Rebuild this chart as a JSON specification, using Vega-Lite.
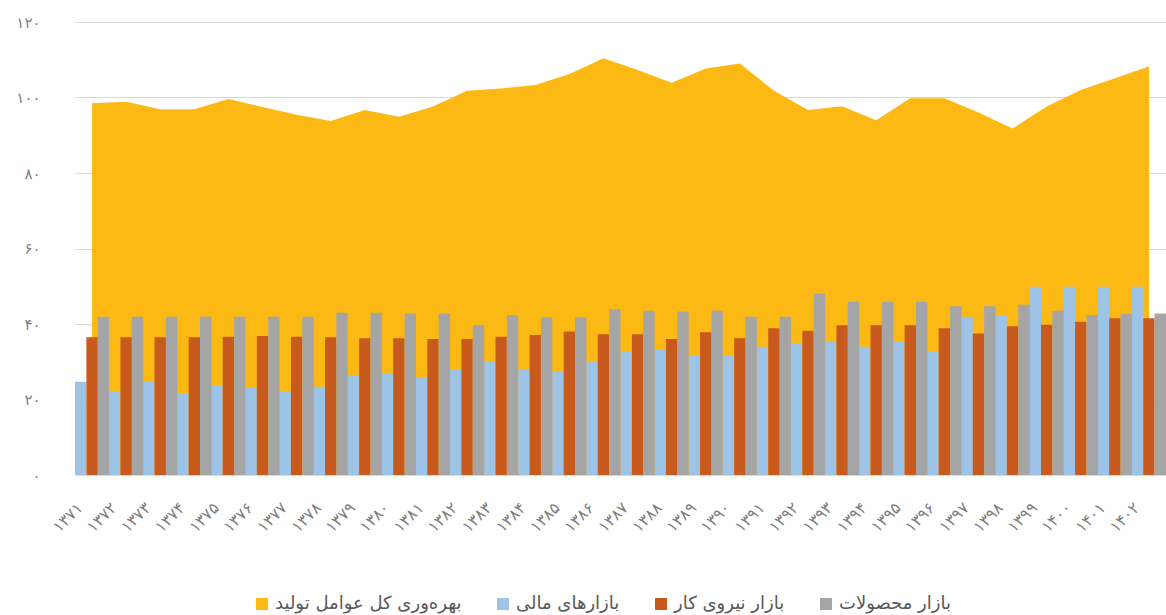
{
  "$schema": "https://vega.github.io/schema/vega-lite/v6.json",
  "autosize": {"type": "none"},
  "padding": {"left": 75, "top": 22, "right": 0, "bottom": 140},
  "width": 1091,
  "height": 453,
  "background": "white",
  "config": {
    "font": "DejaVu Sans",
    "view": {"stroke": null},
    "axis": {"labelFont": "DejaVu Sans", "labelColor": "#7f7f7f"}
  },
  "datasets": {
    "tfp": [
      {"year": "۱۳۷۱", "series": "بهره‌وری کل عوامل تولید", "value": 98.5},
      {"year": "۱۳۷۲", "series": "بهره‌وری کل عوامل تولید", "value": 98.9},
      {"year": "۱۳۷۳", "series": "بهره‌وری کل عوامل تولید", "value": 96.9},
      {"year": "۱۳۷۴", "series": "بهره‌وری کل عوامل تولید", "value": 96.9},
      {"year": "۱۳۷۵", "series": "بهره‌وری کل عوامل تولید", "value": 99.6},
      {"year": "۱۳۷۶", "series": "بهره‌وری کل عوامل تولید", "value": 97.5},
      {"year": "۱۳۷۷", "series": "بهره‌وری کل عوامل تولید", "value": 95.4},
      {"year": "۱۳۷۸", "series": "بهره‌وری کل عوامل تولید", "value": 93.8},
      {"year": "۱۳۷۹", "series": "بهره‌وری کل عوامل تولید", "value": 96.7},
      {"year": "۱۳۸۰", "series": "بهره‌وری کل عوامل تولید", "value": 94.9},
      {"year": "۱۳۸۱", "series": "بهره‌وری کل عوامل تولید", "value": 97.6},
      {"year": "۱۳۸۲", "series": "بهره‌وری کل عوامل تولید", "value": 101.8},
      {"year": "۱۳۸۳", "series": "بهره‌وری کل عوامل تولید", "value": 102.4},
      {"year": "۱۳۸۴", "series": "بهره‌وری کل عوامل تولید", "value": 103.3},
      {"year": "۱۳۸۵", "series": "بهره‌وری کل عوامل تولید", "value": 106.2},
      {"year": "۱۳۸۶", "series": "بهره‌وری کل عوامل تولید", "value": 110.4},
      {"year": "۱۳۸۷", "series": "بهره‌وری کل عوامل تولید", "value": 107.3},
      {"year": "۱۳۸۸", "series": "بهره‌وری کل عوامل تولید", "value": 103.9},
      {"year": "۱۳۸۹", "series": "بهره‌وری کل عوامل تولید", "value": 107.7},
      {"year": "۱۳۹۰", "series": "بهره‌وری کل عوامل تولید", "value": 109.0},
      {"year": "۱۳۹۱", "series": "بهره‌وری کل عوامل تولید", "value": 101.8},
      {"year": "۱۳۹۲", "series": "بهره‌وری کل عوامل تولید", "value": 96.7},
      {"year": "۱۳۹۳", "series": "بهره‌وری کل عوامل تولید", "value": 97.7},
      {"year": "۱۳۹۴", "series": "بهره‌وری کل عوامل تولید", "value": 94.0},
      {"year": "۱۳۹۵", "series": "بهره‌وری کل عوامل تولید", "value": 99.8},
      {"year": "۱۳۹۶", "series": "بهره‌وری کل عوامل تولید", "value": 99.8},
      {"year": "۱۳۹۷", "series": "بهره‌وری کل عوامل تولید", "value": 96.0},
      {"year": "۱۳۹۸", "series": "بهره‌وری کل عوامل تولید", "value": 91.8},
      {"year": "۱۳۹۹", "series": "بهره‌وری کل عوامل تولید", "value": 97.6},
      {"year": "۱۴۰۰", "series": "بهره‌وری کل عوامل تولید", "value": 102.0},
      {"year": "۱۴۰۱", "series": "بهره‌وری کل عوامل تولید", "value": 105.1},
      {"year": "۱۴۰۲", "series": "بهره‌وری کل عوامل تولید", "value": 108.2}
    ],
    "bars": [
      {"year": "۱۳۷۱", "series": "بازارهای مالی", "value": 24.7},
      {"year": "۱۳۷۲", "series": "بازارهای مالی", "value": 22.1},
      {"year": "۱۳۷۳", "series": "بازارهای مالی", "value": 24.7},
      {"year": "۱۳۷۴", "series": "بازارهای مالی", "value": 21.6},
      {"year": "۱۳۷۵", "series": "بازارهای مالی", "value": 23.8},
      {"year": "۱۳۷۶", "series": "بازارهای مالی", "value": 23.2},
      {"year": "۱۳۷۷", "series": "بازارهای مالی", "value": 22.1},
      {"year": "۱۳۷۸", "series": "بازارهای مالی", "value": 23.4},
      {"year": "۱۳۷۹", "series": "بازارهای مالی", "value": 26.5},
      {"year": "۱۳۸۰", "series": "بازارهای مالی", "value": 27.0},
      {"year": "۱۳۸۱", "series": "بازارهای مالی", "value": 25.7},
      {"year": "۱۳۸۲", "series": "بازارهای مالی", "value": 27.8},
      {"year": "۱۳۸۳", "series": "بازارهای مالی", "value": 30.0},
      {"year": "۱۳۸۴", "series": "بازارهای مالی", "value": 27.8},
      {"year": "۱۳۸۵", "series": "بازارهای مالی", "value": 27.4},
      {"year": "۱۳۸۶", "series": "بازارهای مالی", "value": 30.0},
      {"year": "۱۳۸۷", "series": "بازارهای مالی", "value": 32.7},
      {"year": "۱۳۸۸", "series": "بازارهای مالی", "value": 33.1},
      {"year": "۱۳۸۹", "series": "بازارهای مالی", "value": 31.8},
      {"year": "۱۳۹۰", "series": "بازارهای مالی", "value": 31.8},
      {"year": "۱۳۹۱", "series": "بازارهای مالی", "value": 34.0},
      {"year": "۱۳۹۲", "series": "بازارهای مالی", "value": 34.9},
      {"year": "۱۳۹۳", "series": "بازارهای مالی", "value": 35.3},
      {"year": "۱۳۹۴", "series": "بازارهای مالی", "value": 34.0},
      {"year": "۱۳۹۵", "series": "بازارهای مالی", "value": 35.3},
      {"year": "۱۳۹۶", "series": "بازارهای مالی", "value": 32.7},
      {"year": "۱۳۹۷", "series": "بازارهای مالی", "value": 41.9},
      {"year": "۱۳۹۸", "series": "بازارهای مالی", "value": 42.4},
      {"year": "۱۳۹۹", "series": "بازارهای مالی", "value": 49.9},
      {"year": "۱۴۰۰", "series": "بازارهای مالی", "value": 49.9},
      {"year": "۱۴۰۱", "series": "بازارهای مالی", "value": 49.9},
      {"year": "۱۴۰۲", "series": "بازارهای مالی", "value": 49.9},
      {"year": "۱۳۷۱", "series": "بازار نیروی کار", "value": 36.5},
      {"year": "۱۳۷۲", "series": "بازار نیروی کار", "value": 36.5},
      {"year": "۱۳۷۳", "series": "بازار نیروی کار", "value": 36.5},
      {"year": "۱۳۷۴", "series": "بازار نیروی کار", "value": 36.5},
      {"year": "۱۳۷۵", "series": "بازار نیروی کار", "value": 36.6},
      {"year": "۱۳۷۶", "series": "بازار نیروی کار", "value": 36.8},
      {"year": "۱۳۷۷", "series": "بازار نیروی کار", "value": 36.6},
      {"year": "۱۳۷۸", "series": "بازار نیروی کار", "value": 36.5},
      {"year": "۱۳۷۹", "series": "بازار نیروی کار", "value": 36.2},
      {"year": "۱۳۸۰", "series": "بازار نیروی کار", "value": 36.2},
      {"year": "۱۳۸۱", "series": "بازار نیروی کار", "value": 36.0},
      {"year": "۱۳۸۲", "series": "بازار نیروی کار", "value": 36.0},
      {"year": "۱۳۸۳", "series": "بازار نیروی کار", "value": 36.6},
      {"year": "۱۳۸۴", "series": "بازار نیروی کار", "value": 37.1},
      {"year": "۱۳۸۵", "series": "بازار نیروی کار", "value": 38.0},
      {"year": "۱۳۸۶", "series": "بازار نیروی کار", "value": 37.3},
      {"year": "۱۳۸۷", "series": "بازار نیروی کار", "value": 37.3},
      {"year": "۱۳۸۸", "series": "بازار نیروی کار", "value": 36.0},
      {"year": "۱۳۸۹", "series": "بازار نیروی کار", "value": 37.8},
      {"year": "۱۳۹۰", "series": "بازار نیروی کار", "value": 36.2},
      {"year": "۱۳۹۱", "series": "بازار نیروی کار", "value": 38.9},
      {"year": "۱۳۹۲", "series": "بازار نیروی کار", "value": 38.2},
      {"year": "۱۳۹۳", "series": "بازار نیروی کار", "value": 39.7},
      {"year": "۱۳۹۴", "series": "بازار نیروی کار", "value": 39.7},
      {"year": "۱۳۹۵", "series": "بازار نیروی کار", "value": 39.7},
      {"year": "۱۳۹۶", "series": "بازار نیروی کار", "value": 38.9},
      {"year": "۱۳۹۷", "series": "بازار نیروی کار", "value": 37.5},
      {"year": "۱۳۹۸", "series": "بازار نیروی کار", "value": 39.4},
      {"year": "۱۳۹۹", "series": "بازار نیروی کار", "value": 39.8},
      {"year": "۱۴۰۰", "series": "بازار نیروی کار", "value": 40.6},
      {"year": "۱۴۰۱", "series": "بازار نیروی کار", "value": 41.5},
      {"year": "۱۴۰۲", "series": "بازار نیروی کار", "value": 41.5},
      {"year": "۱۳۷۱", "series": "بازار محصولات", "value": 41.9},
      {"year": "۱۳۷۲", "series": "بازار محصولات", "value": 41.9},
      {"year": "۱۳۷۳", "series": "بازار محصولات", "value": 41.9},
      {"year": "۱۳۷۴", "series": "بازار محصولات", "value": 41.9},
      {"year": "۱۳۷۵", "series": "بازار محصولات", "value": 41.9},
      {"year": "۱۳۷۶", "series": "بازار محصولات", "value": 41.9},
      {"year": "۱۳۷۷", "series": "بازار محصولات", "value": 41.9},
      {"year": "۱۳۷۸", "series": "بازار محصولات", "value": 43.0},
      {"year": "۱۳۷۹", "series": "بازار محصولات", "value": 43.0},
      {"year": "۱۳۸۰", "series": "بازار محصولات", "value": 42.8},
      {"year": "۱۳۸۱", "series": "بازار محصولات", "value": 42.8},
      {"year": "۱۳۸۲", "series": "بازار محصولات", "value": 39.7},
      {"year": "۱۳۸۳", "series": "بازار محصولات", "value": 42.4},
      {"year": "۱۳۸۴", "series": "بازار محصولات", "value": 41.8},
      {"year": "۱۳۸۵", "series": "بازار محصولات", "value": 41.8},
      {"year": "۱۳۸۶", "series": "بازار محصولات", "value": 43.9},
      {"year": "۱۳۸۷", "series": "بازار محصولات", "value": 43.5},
      {"year": "۱۳۸۸", "series": "بازار محصولات", "value": 43.3},
      {"year": "۱۳۸۹", "series": "بازار محصولات", "value": 43.5},
      {"year": "۱۳۹۰", "series": "بازار محصولات", "value": 41.9},
      {"year": "۱۳۹۱", "series": "بازار محصولات", "value": 41.9},
      {"year": "۱۳۹۲", "series": "بازار محصولات", "value": 48.1},
      {"year": "۱۳۹۳", "series": "بازار محصولات", "value": 45.9},
      {"year": "۱۳۹۴", "series": "بازار محصولات", "value": 45.9},
      {"year": "۱۳۹۵", "series": "بازار محصولات", "value": 45.9},
      {"year": "۱۳۹۶", "series": "بازار محصولات", "value": 44.7},
      {"year": "۱۳۹۷", "series": "بازار محصولات", "value": 44.7},
      {"year": "۱۳۹۸", "series": "بازار محصولات", "value": 45.1},
      {"year": "۱۳۹۹", "series": "بازار محصولات", "value": 43.5},
      {"year": "۱۴۰۰", "series": "بازار محصولات", "value": 42.4},
      {"year": "۱۴۰۱", "series": "بازار محصولات", "value": 42.7},
      {"year": "۱۴۰۲", "series": "بازار محصولات", "value": 42.8}
    ]
  },
  "encoding": {
    "x": {
      "field": "year",
      "type": "nominal",
      "sort": null,
      "scale": {"paddingInner": 0, "paddingOuter": 0},
      "axis": {
        "title": null,
        "domain": false,
        "ticks": false,
        "labelAngle": -45,
        "labelAlign": "right",
        "labelBaseline": "middle",
        "labelPadding": 30,
        "labelOffset": -12,
        "labelFontSize": 16,
        "labelColor": "#7f7f7f"
      }
    },
    "y": {
      "field": "value",
      "type": "quantitative",
      "scale": {"domain": [0, 120], "nice": false},
      "axis": {
        "title": null,
        "domain": false,
        "ticks": false,
        "values": [0, 20, 40, 60, 80, 100, 120],
        "labelPadding": 35,
        "labelFontSize": 15,
        "labelColor": "#7f7f7f",
        "gridColor": "#d9d9d9",
        "gridWidth": 1,
        "labelExpr": "datum.value == 0 ? '۰' : datum.value == 20 ? '۲۰' : datum.value == 40 ? '۴۰' : datum.value == 60 ? '۶۰' : datum.value == 80 ? '۸۰' : datum.value == 100 ? '۱۰۰' : '۱۲۰'"
      }
    },
    "color": {
      "field": "series",
      "type": "nominal",
      "scale": {
        "domain": ["بهره‌وری کل عوامل تولید", "بازارهای مالی", "بازار نیروی کار", "بازار محصولات"],
        "range": ["#FDB913", "#9DC3E6", "#C95A1E", "#A5A5A5"]
      },
      "legend": {
        "title": null,
        "orient": "none",
        "direction": "horizontal",
        "legendX": 178,
        "legendY": 573,
        "symbolType": "square",
        "symbolSize": 144,
        "symbolStrokeWidth": 0,
        "labelFontSize": 18,
        "labelLimit": 0,
        "labelColor": "#595959",
        "labelOffset": 4,
        "columnPadding": 32
      }
    }
  },
  "layer": [
    {
      "data": {"name": "tfp"},
      "mark": {"type": "area", "opacity": 1}
    },
    {
      "data": {"name": "bars"},
      "mark": {"type": "bar"},
      "encoding": {
        "xOffset": {
          "field": "series",
          "type": "nominal",
          "scale": {"domain": ["بازارهای مالی", "بازار نیروی کار", "بازار محصولات"], "paddingInner": 0, "paddingOuter": 0}
        }
      }
    }
  ]
}
